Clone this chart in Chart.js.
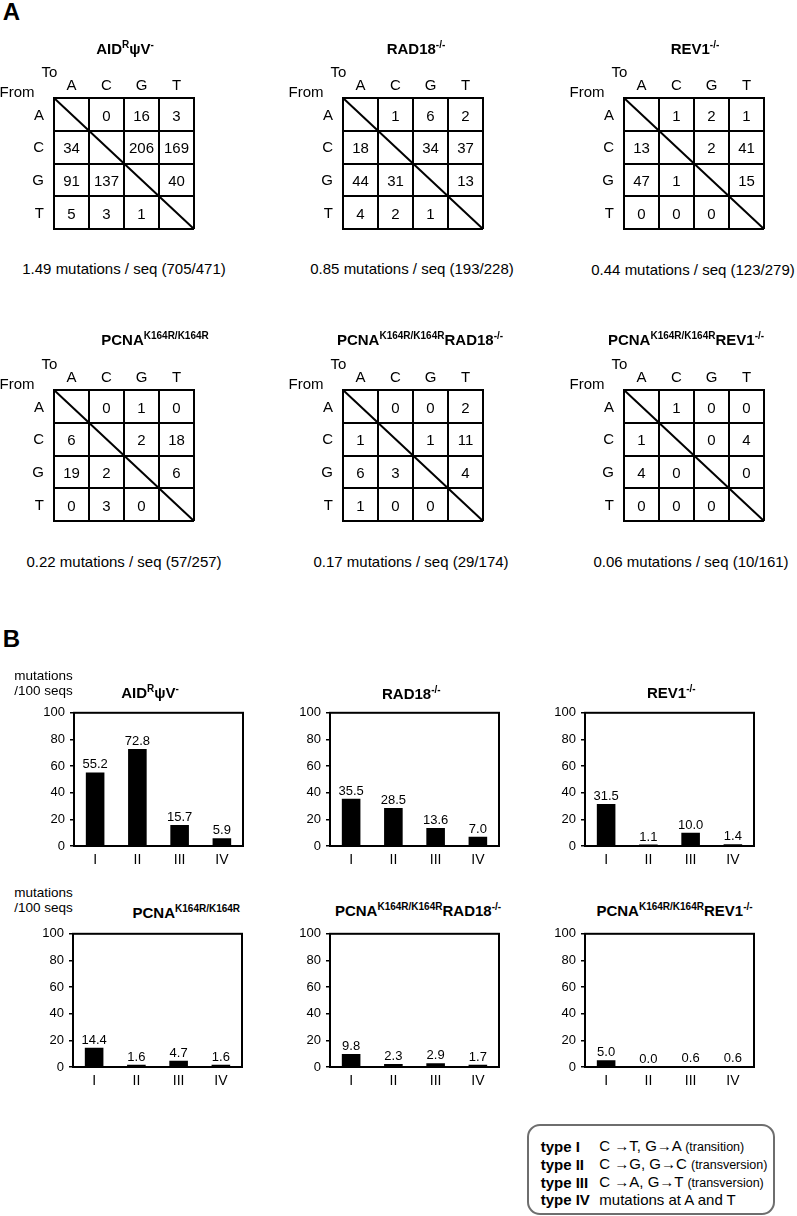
<!DOCTYPE html>
<html>
<head>
<meta charset="utf-8">
<script src="https://cdn.jsdelivr.net/npm/chart.js@4.4.0/dist/chart.umd.min.js"></script>
<style>
  body { margin: 0; background: #fff; }
  #page { position: relative; width: 797px; height: 1216px; overflow: hidden;
          font-family: 'Liberation Sans', Arial, Helvetica, sans-serif; color: #000; }
  .t { position: absolute; white-space: nowrap; line-height: 1; transform: translate(-50%, -50%); }
  .l { position: absolute; white-space: nowrap; line-height: 1; transform: translate(0, -50%); }
  .b { font-weight: bold; }
  sup { font-size: 10px; line-height: 0; vertical-align: 6px; }
  .cv { position: absolute; }
  #legend { position: absolute; left: 527px; top: 1124px; width: 244px; height: 87px;
            border: 2px solid #6e6e6e; border-radius: 13px; }
  .small { font-size: 12.5px; }
</style>
</head>
<body>
<div id="page"></div>
<script>
// ---- data ----
const bases = ['A', 'C', 'G', 'T'];
const mutationTypes = ['I', 'II', 'III', 'IV'];
const yTicks = [0, 20, 40, 60, 80, 100];

// rows = from, columns = to (null on the diagonal)
const matAID = [[null, 0, 16, 3], [34, null, 206, 169], [91, 137, null, 40], [5, 3, 1, null]];
const matRAD18 = [[null, 1, 6, 2], [18, null, 34, 37], [44, 31, null, 13], [4, 2, 1, null]];
const matREV1 = [[null, 1, 2, 1], [13, null, 2, 41], [47, 1, null, 15], [0, 0, 0, null]];
const matPCNA = [[null, 0, 1, 0], [6, null, 2, 18], [19, 2, null, 6], [0, 3, 0, null]];
const matPCNARAD18 = [[null, 0, 0, 2], [1, null, 1, 11], [6, 3, null, 4], [1, 0, 0, null]];
const matPCNAREV1 = [[null, 1, 0, 0], [1, null, 0, 4], [4, 0, null, 0], [0, 0, 0, null]];

const captions = [
  '1.49 mutations / seq (705/471)',
  '0.85 mutations / seq (193/228)',
  '0.44 mutations / seq (123/279)',
  '0.22 mutations / seq (57/257)',
  '0.17 mutations / seq (29/174)',
  '0.06 mutations / seq (10/161)'
];

const barAID = [55.2, 72.8, 15.7, 5.9];
const barRAD18 = [35.5, 28.5, 13.6, 7.0];
const barREV1 = [31.5, 1.1, 10.0, 1.4];
const barPCNA = [14.4, 1.6, 4.7, 1.6];
const barPCNARAD18 = [9.8, 2.3, 2.9, 1.7];
const barPCNAREV1 = [5.0, 0.0, 0.6, 0.6];

const titles = [
  'AID<sup>R</sup>ψV<sup>-</sup>',
  'RAD18<sup>-/-</sup>',
  'REV1<sup>-/-</sup>',
  'PCNA<sup>K164R/K164R</sup>',
  'PCNA<sup>K164R/K164R</sup>RAD18<sup>-/-</sup>',
  'PCNA<sup>K164R/K164R</sup>REV1<sup>-/-</sup>'
];

// ---- helpers ----
const page = document.getElementById('page');
const FONT = "'Liberation Sans', Arial, Helvetica, sans-serif";
Chart.defaults.font.family = FONT;
Chart.defaults.color = '#000';

function addText(html, x, y, size, cls) {
  const el = document.createElement('div');
  el.className = cls || 't';
  el.style.left = x + 'px';
  el.style.top = y + 'px';
  el.style.fontSize = size + 'px';
  el.innerHTML = html;
  (cls && cls.indexOf('leg') >= 0 ? document.getElementById('legend') : page).appendChild(el);
  return el;
}

function addCanvas(left, top, w, h) {
  const c = document.createElement('canvas');
  c.className = 'cv';
  c.width = w; c.height = h;
  c.style.left = left + 'px'; c.style.top = top + 'px';
  c.style.width = w + 'px'; c.style.height = h + 'px';
  page.appendChild(c);
  return c.getContext('2d');
}

const cellText = {
  id: 'cellText',
  afterDatasetsDraw(chart) {
    const ctx = chart.ctx;
    const ds = chart.data.datasets[0];
    const meta = chart.getDatasetMeta(0);
    ctx.save();
    ctx.font = '15px ' + FONT;
    ctx.textAlign = 'center';
    ctx.textBaseline = 'middle';
    ctx.fillStyle = '#000';
    meta.data.forEach((pt, i) => ctx.fillText(String(ds.data[i].v), pt.x, pt.y + 2));
    ctx.restore();
  }
};

function drawMatrix(matrix, gl, gt) {
  const ctx = addCanvas(gl - 30, gt - 24, 180, 174);
  const cells = [];
  matrix.forEach((row, r) => row.forEach((v, c) => {
    if (v !== null) cells.push({ x: c + 0.5, y: r + 0.5, v: v });
  }));
  const n = bases.length;
  new Chart(ctx, {
    type: 'scatter',
    data: {
      datasets: [
        { data: cells, pointRadius: 0, pointHoverRadius: 0 },
        { type: 'line', data: [{ x: 0, y: 0 }, { x: n, y: n }], borderColor: '#000',
          borderWidth: 2, pointRadius: 0, clip: 2 }
      ]
    },
    options: {
      responsive: false, animation: false, events: [],
      layout: { padding: { top: 0, left: 0, right: 10, bottom: 10 } },
      plugins: { legend: { display: false }, tooltip: { enabled: false } },
      scales: {
        x: {
          type: 'linear', position: 'top', min: 0, max: n,
          grid: { color: '#000', lineWidth: 2, drawTicks: false },
          border: { color: '#000', width: 2 },
          ticks: { stepSize: 1, padding: 3, labelOffset: 17.5, font: { size: 15 }, maxRotation: 0,
                   autoSkip: false, callback: v => bases[v] || '' },
          afterFit: s => { s.height = 24; }
        },
        y: {
          type: 'linear', reverse: true, min: 0, max: n,
          grid: { color: '#000', lineWidth: 2, drawTicks: false },
          border: { color: '#000', width: 2 },
          ticks: { stepSize: 1, padding: 10, labelOffset: 17.5, font: { size: 15 },
                   autoSkip: false, callback: v => bases[v] || '' },
          afterFit: s => { s.width = 30; }
        }
      }
    },
    plugins: [cellText]
  });
  addText('To', gl - 4.5, gt - 27, 15);
  addText('From', gl - 37, gt - 6.7, 15);
}

const frame = {
  id: 'frame',
  afterDraw(chart) {
    const a = chart.chartArea, ctx = chart.ctx;
    ctx.save();
    ctx.strokeStyle = '#000';
    ctx.lineWidth = 2;
    ctx.strokeRect(a.left, a.top, a.right - a.left, a.bottom - a.top);
    ctx.restore();
  }
};

const valueLabels = {
  id: 'valueLabels',
  afterDatasetsDraw(chart) {
    const ctx = chart.ctx;
    const vals = chart.data.datasets[0].data;
    const meta = chart.getDatasetMeta(0);
    ctx.save();
    ctx.font = '13px ' + FONT;
    ctx.textAlign = 'center';
    ctx.textBaseline = 'alphabetic';
    ctx.fillStyle = '#000';
    meta.data.forEach((bar, i) => ctx.fillText(vals[i].toFixed(1), bar.x, bar.y - 4));
    ctx.restore();
  }
};

function drawBars(values, left, top) {
  const ctx = addCanvas(left - 40, top - 12, 219, 176);
  new Chart(ctx, {
    type: 'bar',
    data: {
      labels: mutationTypes,
      datasets: [{ data: values, backgroundColor: '#000', categoryPercentage: 1, barPercentage: 0.44 }]
    },
    options: {
      responsive: false, animation: false, events: [],
      layout: { padding: { top: 12, right: 10, left: 0, bottom: 0 } },
      plugins: { legend: { display: false }, tooltip: { enabled: false } },
      scales: {
        x: {
          grid: { display: false, drawTicks: false }, border: { display: false },
          ticks: { padding: 6, font: { size: 14 } },
          afterFit: s => { s.height = 30; }
        },
        y: {
          min: yTicks[0], max: yTicks[yTicks.length - 1],
          afterBuildTicks: s => { s.ticks = yTicks.map(v => ({ value: v })); },
          grid: { drawOnChartArea: false, drawTicks: true, tickLength: 4, color: '#000', lineWidth: 1.5 },
          border: { display: false },
          ticks: { padding: 5, font: { size: 13 } },
          afterFit: s => { s.width = 40; }
        }
      }
    },
    plugins: [frame, valueLabels]
  });
}

// ---- panel A ----
addText('A', 11.5, 12, 24, 't b');
const matrices = [matAID, matRAD18, matREV1, matPCNA, matPCNARAD18, matPCNAREV1];
const gridPos = [[54, 98], [343, 98], [624, 98], [54, 389.5], [343, 389.5], [624, 389.5]];
const matTitlePos = [[125, 47.5], [416, 47.5], [695, 47.5], [155, 339], [420, 339], [686, 339]];
const captionPos = [[124, 268.3], [412, 268], [693, 268.5], [124, 560.5], [411, 560.5], [691, 560.5]];
matrices.forEach((m, i) => {
  drawMatrix(m, gridPos[i][0], gridPos[i][1]);
  addText(titles[i], matTitlePos[i][0], matTitlePos[i][1], 15, 't b');
  addText(captions[i], captionPos[i][0], captionPos[i][1], 15);
});

// ---- panel B ----
addText('B', 11.5, 638.5, 24, 't b');
const bars = [barAID, barRAD18, barREV1, barPCNA, barPCNARAD18, barPCNAREV1];
const plotPos = [[74, 712], [330, 712], [585, 712], [73, 933], [330, 933], [585, 933]];
const barTitlePos = [[150, 691.7], [411.3, 693], [671.3, 691.7], [186.3, 911.5], [418, 910], [674.5, 909.5]];
bars.forEach((v, i) => {
  drawBars(v, plotPos[i][0], plotPos[i][1]);
  addText(titles[i], barTitlePos[i][0], barTitlePos[i][1], 15, 't b');
});
addText('mutations', 43.5, 676, 13.5);
addText('/100 seqs', 43.5, 690.7, 13.5);
addText('mutations', 43.5, 892.7, 13.5);
addText('/100 seqs', 43.5, 907.7, 13.5);

// ---- legend ----
const legendBox = document.createElement('div');
legendBox.id = 'legend';
page.appendChild(legendBox);
const legendRows = [
  ['type I', 'C →T, G→A <span class="small">(transition)</span>'],
  ['type II', 'C →G, G→C <span class="small">(transversion)</span>'],
  ['type III', 'C →A, G→T <span class="small">(transversion)</span>'],
  ['type IV', 'mutations at A and T']
];
const legendY = [20, 37.7, 56, 73];
legendRows.forEach((r, i) => {
  addText(r[0], 11.7, legendY[i], 15, 'l b leg');
  addText(r[1], 70.3, legendY[i], 15, 'l leg');
});
</script>
</body>
</html>
